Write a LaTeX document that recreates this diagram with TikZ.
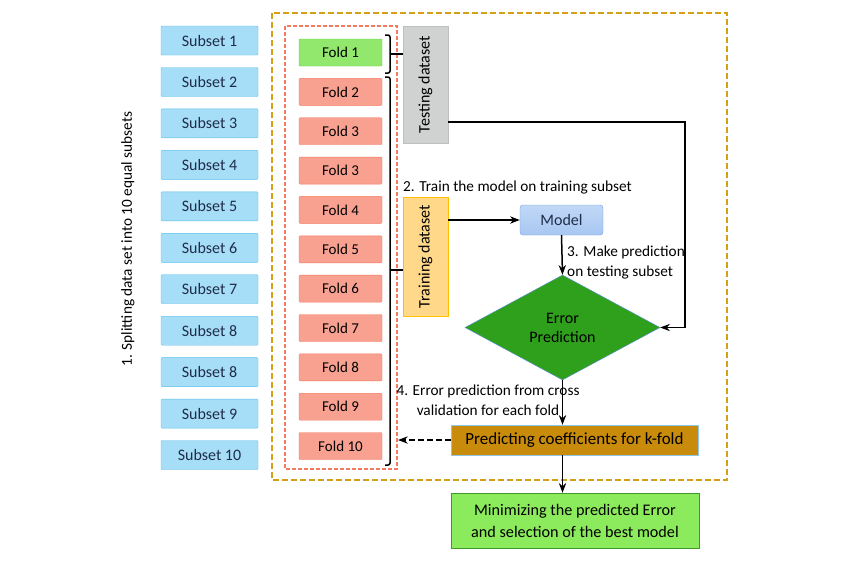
\documentclass[tikz,border=0pt]{standalone}
\usepackage{fontspec}
\setmainfont{Carlito}
\usepackage{tikz}
\usetikzlibrary{shapes.geometric, arrows}
\usetikzlibrary{arrows.meta}
\usetikzlibrary{calc}
\usetikzlibrary{positioning}
\definecolor{subfill}{HTML}{A6DDF7}
\definecolor{subdraw}{HTML}{5BC0EB}
\definecolor{subtext}{HTML}{1F2D4A}
\definecolor{foldfill}{HTML}{F9A190}
\definecolor{folddraw}{HTML}{F37B62}
\definecolor{greenfill}{HTML}{92E86C}
\definecolor{greendraw}{HTML}{6BD14A}
\definecolor{testfill}{HTML}{D0D2D1}
\definecolor{testdraw}{HTML}{BFBFBF}
\definecolor{trainfill}{HTML}{FFD88A}
\definecolor{traindraw}{HTML}{FFC000}
\definecolor{modelfill}{HTML}{A7C7F2}
\definecolor{modeldraw}{HTML}{6E9CE0}
\definecolor{errfill}{HTML}{2FA01C}
\definecolor{errdraw}{HTML}{5A8FD8}
\definecolor{predfill}{HTML}{C98B0C}
\definecolor{preddraw}{HTML}{8FC7E8}
\definecolor{minfill}{HTML}{8CEB5C}
\definecolor{mindraw}{HTML}{3F9A2A}
\definecolor{outerdash}{HTML}{D4A017}
\tikzstyle{subset} = [rectangle, rounded corners=1pt, minimum width=97pt, minimum height=29pt, draw=subdraw, fill=subfill, text=subtext, font=\fontsize{16}{18}\selectfont]
\tikzstyle{fold} = [rectangle, rounded corners=1pt, minimum width=83pt, minimum height=27pt, draw=folddraw, fill=foldfill, font=\fontsize{15}{17}\selectfont]
\tikzstyle{side} = [rectangle, rotate=90, font=\fontsize{16}{18}\selectfont]
\tikzstyle{lbl} = [font=\fontsize{15.3}{20}\selectfont, align=left, inner sep=0pt]
\tikzstyle{arrow} = [line width=1.5pt,->,>=Stealth]

\begin{document}
\begin{tikzpicture}[x=1pt,y=-1pt]
\useasboundingbox (0,0) rectangle (850,566);
\fill[white] (0,0) rectangle (850,566);

% dashed frames
\draw [outerdash, line width=1.6pt, dash pattern=on 6pt off 3pt] (272,13) rectangle (727,480);
\draw [folddraw, line width=1.4pt, dash pattern=on 4pt off 2pt] (285,26) rectangle (397,469);

% 10 subsets
\node[subset] (s1)  at (209.5,40.5)  {Subset 1};
\node[subset] (s2)  at (209.5,82)    {Subset 2};
\node[subset] (s3)  at (209.5,123.4) {Subset 3};
\node[subset] (s4)  at (209.5,164.9) {Subset 4};
\node[subset] (s5)  at (209.5,206.3) {Subset 5};
\node[subset] (s6)  at (209.5,247.8) {Subset 6};
\node[subset] (s7)  at (209.5,289.2) {Subset 7};
\node[subset] (s8)  at (209.5,330.7) {Subset 8};
\node[subset] (s8b) at (209.5,372.1) {Subset 8};
\node[subset] (s9)  at (209.5,413.6) {Subset 9};
\node[subset] (s10) at (209.5,455)   {Subset 10};

\node[rotate=90, font=\fontsize{15.3}{18}\selectfont] (split) at (128,239) {1. Splitting data set into 10 equal subsets};

% folds
\node[fold, fill=greenfill, draw=greendraw] (f1) at (340.5,52.5) {Fold 1};
\node[fold] (f2)  at (340.5,91.9)  {Fold 2};
\node[fold] (f3)  at (340.5,131.2) {Fold 3};
\node[fold] (f3b) at (340.5,170.6) {Fold 3};
\node[fold] (f4)  at (340.5,209.9) {Fold 4};
\node[fold] (f5)  at (340.5,249.3) {Fold 5};
\node[fold] (f6)  at (340.5,288.6) {Fold 6};
\node[fold] (f7)  at (340.5,328)   {Fold 7};
\node[fold] (f8)  at (340.5,367.3) {Fold 8};
\node[fold] (f9)  at (340.5,406.7) {Fold 9};
\node[fold] (f10) at (340.5,446)   {Fold 10};

% datasets
\node[side, minimum width=117pt, minimum height=45pt, draw=testdraw, fill=testfill] (test) at (425.5,84.5) {Testing dataset};
\node[side, minimum width=119pt, minimum height=45pt, draw=traindraw, fill=trainfill] (train) at (425.5,256.5) {Training dataset};

% brackets
\coordinate (bk1) at (390,54);
\coordinate (bk2) at (390,270);
\draw [line width=1.5pt, rounded corners=2pt] (385,35) -- (390,35) -- (390,73) -- (385,73);
\draw [line width=1.5pt] (bk1) -- (bk1 -| test.north);
\draw [line width=1.5pt, rounded corners=2pt] (385,77) -- (390,77) -- (390,465) -- (385,465);
\draw [line width=1.5pt] (bk2) -- (bk2 -| train.north);

% model and error
\node[rectangle, rounded corners=3pt, minimum width=83pt, minimum height=30pt, draw=modeldraw, top color=modelfill!70!white, bottom color=modelfill, text=subtext, font=\fontsize{16}{18}\selectfont] (model) at (561.5,220) {Model};
\node[diamond, aspect=1.86, minimum width=195pt, minimum height=105pt, inner sep=0pt, draw=errdraw, fill=errfill, align=center, font=\fontsize{16}{19}\selectfont] (err) at (562.5,327.5) {Error\\Prediction};
\node[rectangle, minimum width=247pt, minimum height=30pt, draw=preddraw, fill=predfill, font=\fontsize{17}{19}\selectfont] (pred) at (574.5,440) {Predicting coefficients for k-fold};
\node[rectangle, minimum width=248pt, minimum height=55pt, draw=mindraw, fill=minfill, align=center, font=\fontsize{16.2}{22}\selectfont] (best) at (575,520.5) {Minimizing the predicted Error\\and selection of the best model};

% labels
\node[lbl, anchor=west] (l2) at (403,187) {2. Train the model on training subset};
\node[lbl, anchor=west] (l3) at (567,262) {3. Make prediction\\on testing subset};
\node[lbl, align=center] (l4) at (488,400) {4. Error prediction from cross\\validation for each fold};

% connectors
\coordinate (back) at (398,440);
\draw [arrow] ([yshift=-37.5pt]test.south) -| ([xshift=25pt]err.east) -- (err.east);
\draw [arrow] (train.south |- model.west) -- (model.west);
\draw [arrow] (model.south) -- (err.north);
\draw [arrow] (err.south) -- (err.south |- pred.north);
\draw [arrow, dash pattern=on 6pt off 3pt] (pred.west) -- (back);
\draw [arrow] (pred.south -| err.south) -- (err.south |- best.north);

\end{tikzpicture}
\end{document}
